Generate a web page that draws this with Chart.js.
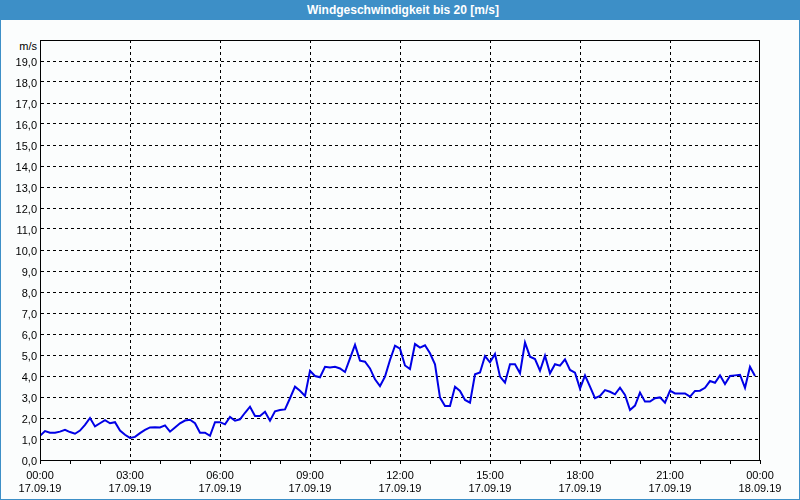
<!DOCTYPE html>
<html>
<head>
<meta charset="utf-8">
<script src="https://cdn.jsdelivr.net/npm/chart.js@4/dist/chart.umd.min.js"></script>
<style>
  html, body { margin: 0; padding: 0; background: #fbfdfd; }
  #wrap { position: relative; width: 800px; height: 500px; background: #fbfdfd; overflow: hidden; }
  #titlebar { position: absolute; left: 0; top: 0; width: 800px; height: 20px; background: #3d8fc7;
    color: #fff; font: bold 12px "Liberation Sans", Arial, sans-serif; text-align: center; line-height: 20px; padding-left: 6px; box-sizing: border-box; }
  #unit { position: absolute; left: 14px; width: 23px; top: 40px; text-align: right;
    font: 11px "Liberation Sans", Arial, sans-serif; line-height: 13px; color: #000; }
  #frame { position: absolute; left: 0; top: 0; width: 800px; height: 500px; box-sizing: border-box;
    border: 1px solid #3d8fc7; pointer-events: none; }
  #cv { position: absolute; left: 0; top: 20px; }
</style>
</head>
<body>
<div id="wrap">
  <div id="titlebar">Windgeschwindigkeit bis 20 [m/s]</div>
  <div id="unit">m/s</div>
  <canvas id="cv" width="800" height="480"></canvas>
  <div id="frame"></div>
</div>
<script>
// Wind speed in m/s, one reading every 10 minutes from 17.09.19 00:00
const stepMinutes = 10;
const windSpeed = [
  1.15, 1.38, 1.30, 1.30, 1.35, 1.44, 1.33, 1.25, 1.40, 1.67,
  2.00, 1.60, 1.75, 1.90, 1.75, 1.80, 1.40, 1.20, 1.05, 1.10,
  1.28, 1.43, 1.55, 1.56, 1.55, 1.65, 1.35, 1.55, 1.75, 1.88,
  1.92, 1.75, 1.30, 1.30, 1.15, 1.80, 1.80, 1.70, 2.05, 1.87,
  1.94, 2.25, 2.54, 2.10, 2.10, 2.30, 1.87, 2.32, 2.38, 2.41,
  2.94, 3.49, 3.30, 3.05, 4.25, 4.00, 3.94, 4.44, 4.40, 4.44,
  4.36, 4.19, 4.84, 5.48, 4.73, 4.68, 4.36, 3.84, 3.52, 3.97,
  4.76, 5.44, 5.30, 4.50, 4.33, 5.52, 5.35, 5.46, 5.08, 4.56,
  2.97, 2.57, 2.57, 3.49, 3.29, 2.86, 2.73, 4.08, 4.17, 4.95,
  4.65, 5.05, 3.97, 3.68, 4.56, 4.56, 4.13, 5.59, 4.92, 4.81,
  4.25, 4.97, 4.13, 4.56, 4.49, 4.79, 4.29, 4.16, 3.40, 4.03,
  3.49, 2.94, 3.05, 3.33, 3.25, 3.13, 3.44, 3.10, 2.38, 2.59,
  3.21, 2.78, 2.78, 2.94, 2.98, 2.73, 3.30, 3.17, 3.17, 3.17,
  3.02, 3.29, 3.30, 3.44, 3.76, 3.68, 4.03, 3.62, 4.00, 4.03,
  4.06, 3.44, 4.44, 4.00
];
// X tick labels every 3 hours
const timeLabels = ['00:00', '03:00', '06:00', '09:00', '12:00', '15:00', '18:00', '21:00', '00:00'];
const dateLabels = ['17.09.19', '17.09.19', '17.09.19', '17.09.19', '17.09.19', '17.09.19', '17.09.19', '17.09.19', '18.09.19'];
const yMin = 0, yMax = 20;

const points = windSpeed.map((v, i) => ({ x: i * stepMinutes / 60, y: v }));
const FONT = { family: '"Liberation Sans", Arial, sans-serif', size: 11 };

const framePlugin = {
  id: 'frame',
  afterDatasetsDraw(chart) {
    const a = chart.chartArea, ctx = chart.ctx;
    ctx.save();
    ctx.strokeStyle = '#000';
    ctx.lineWidth = 1;
    ctx.strokeRect(Math.round(a.left) + 0.5, Math.round(a.top) + 0.5,
                   Math.round(a.right - a.left) - 1, Math.round(a.bottom - a.top));
    ctx.restore();
  }
};

new Chart(document.getElementById('cv'), {
  type: 'line',
  data: {
    datasets: [{
      data: points,
      borderColor: '#0000e6',
      borderWidth: 2,
      pointRadius: 0,
      tension: 0,
      fill: false
    }]
  },
  options: {
    responsive: false,
    animation: false,
    devicePixelRatio: 1,
    layout: { padding: { left: 0, top: 20, right: 40, bottom: 0 } },
    plugins: { legend: { display: false }, tooltip: { enabled: false } },
    scales: {
      x: {
        type: 'linear',
        min: 0, max: 24,
        afterFit(s) { s.height = 40; },
        ticks: {
          stepSize: 1,
          autoSkip: false,
          maxRotation: 0,
          padding: 5,
          color: '#000',
          font: FONT,
          callback(v) {
            if (v % 3 !== 0) return '';
            const k = v / 3;
            return [timeLabels[k], dateLabels[k]];
          }
        },
        grid: {
          color: (c) => (c.tick && c.tick.value % 3 === 0 && c.tick.value > 0 && c.tick.value < 24) ? '#000' : 'rgba(0,0,0,0)',
          lineWidth: 1,
          drawTicks: true,
          tickLength: 4,
          tickColor: '#000'
        },
        border: { display: true, color: '#000', dash: [3, 3] }
      },
      y: {
        min: yMin, max: yMax,
        afterFit(s) { s.width = 40; },
        ticks: {
          stepSize: 1,
          padding: 3,
          labelOffset: 2,
          color: '#000',
          font: FONT,
          callback(v) { return v === yMax ? '' : v.toFixed(1).replace('.', ','); }
        },
        grid: {
          color: (c) => (c.tick && c.tick.value > yMin && c.tick.value < yMax) ? '#000' : 'rgba(0,0,0,0)',
          lineWidth: 1,
          drawTicks: false
        },
        border: { display: true, color: '#000', dash: [3, 3] }
      }
    }
  },
  plugins: [framePlugin]
});
</script>
</body>
</html>
